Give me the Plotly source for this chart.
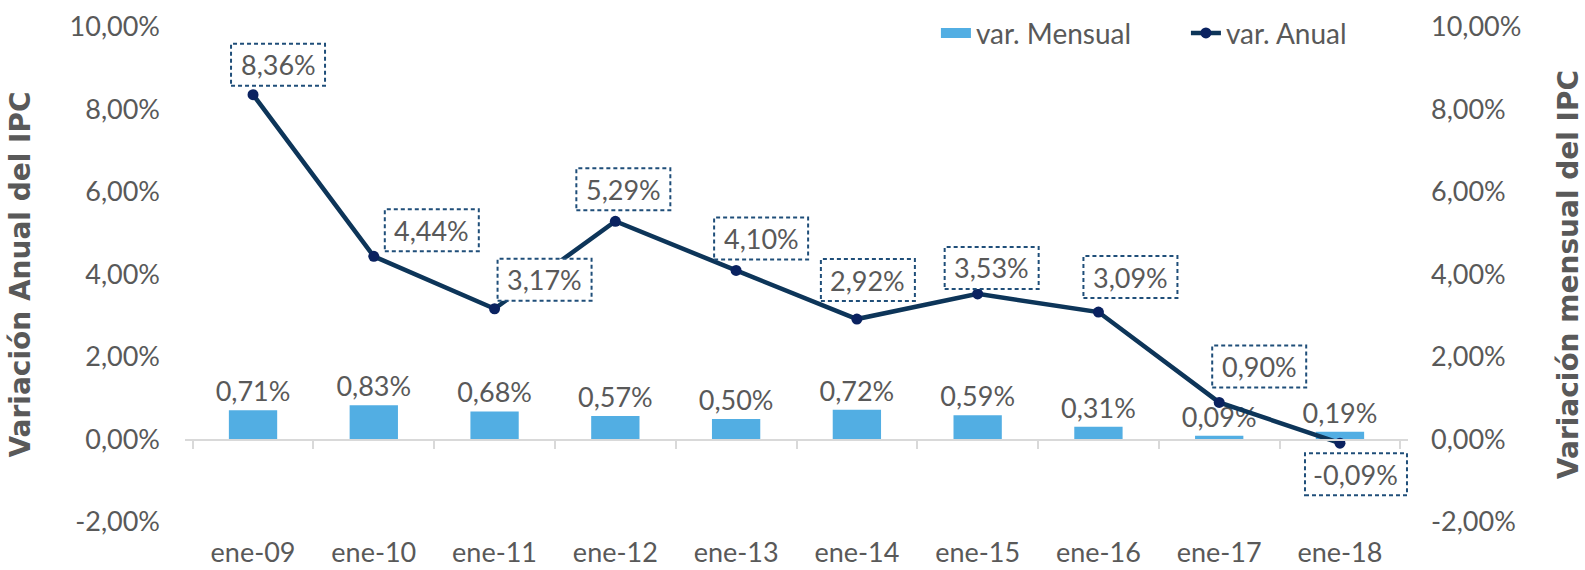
import plotly.graph_objects as go

categories = ["ene-09", "ene-10", "ene-11", "ene-12", "ene-13", "ene-14", "ene-15", "ene-16", "ene-17", "ene-18"]
var_mensual = [0.71, 0.83, 0.68, 0.57, 0.50, 0.72, 0.59, 0.31, 0.09, 0.19]
var_anual = [8.36, 4.44, 3.17, 5.29, 4.10, 2.92, 3.53, 3.09, 0.90, -0.09]
tick_values = [-2, 0, 2, 4, 6, 8, 10]

# label placement offsets (pixels) for the annual labels
label_dx = [25, 58, 50, 8, 25, 11, 14, 32, 40, 16]
label_dy = [30, 26, 29, 32, 32, 39, 26, 35, 36, -31]


def fmt(v):
    return f"{v:.2f}%".replace(".", ",")


tick_text = [fmt(v) for v in tick_values]

FONT = "Lato"
TITLE_FONT = "DejaVu Sans"
GRAY = "#595959"
BAR_COLOR = "#52AEE3"
LINE_COLOR = "#0D3559"
MARKER_COLOR = "#0A2260"
BOX_COLOR = "#1F4E79"

fig = go.Figure()

fig.add_trace(go.Bar(
    x=categories, y=var_mensual, name="var. Mensual", showlegend=False,
    marker=dict(color=BAR_COLOR, line=dict(width=0)),
    text=[fmt(v) for v in var_mensual], textposition="outside", constraintext="none",
    textfont=dict(family=FONT, size=27, color=GRAY),
    cliponaxis=False, xaxis="x", yaxis="y",
))

# legend proxy for the bars (wide rectangle swatch)
fig.add_trace(go.Scatter(
    x=[None], y=[None], name="var. Mensual", mode="lines",
    line=dict(color=BAR_COLOR, width=18), xaxis="x", yaxis="y",
))

fig.add_trace(go.Scatter(
    x=categories, y=var_anual, name="var. Anual", mode="lines+markers",
    line=dict(color=LINE_COLOR, width=4.5),
    marker=dict(color=MARKER_COLOR, size=11),
    cliponaxis=False, xaxis="x2", yaxis="y2",
))

shapes = []
annotations = []
for c, v, dx, dy in zip(categories, var_anual, label_dx, label_dy):
    txt = fmt(v)
    hw = (94 + (len(txt) - 5) * 8) / 2
    shapes.append(dict(
        type="rect", xref="x", yref="y", xsizemode="pixel", ysizemode="pixel",
        xanchor=c, yanchor=v, x0=dx - hw, x1=dx + hw, y0=dy - 21, y1=dy + 21,
        line=dict(color=BOX_COLOR, width=2, dash="4px,3px"), fillcolor="white", layer="above",
    ))
    annotations.append(dict(
        x=c, y=v, xref="x", yref="y", text=txt, showarrow=False,
        xshift=dx, yshift=dy, font=dict(family=FONT, size=27, color=GRAY),
    ))

tickfont = dict(family=FONT, size=27, color=GRAY)
titlefont = dict(family=TITLE_FONT, size=28, color=GRAY, weight="bold")

fig.update_layout(
    template="none",
    width=1585, height=570,
    margin=dict(l=184.5, r=177, t=27.3, b=48.3, autoexpand=False),
    paper_bgcolor="white", plot_bgcolor="white",
    separators=",.",
    bargap=0.6,
    showlegend=True,
    legend=dict(orientation="h", x=0.614, xanchor="left", y=0.9875, yanchor="middle",
                font=dict(family=FONT, size=28, color=GRAY), bgcolor="rgba(0,0,0,0)",
                entrywidth=205, tracegroupgap=0),
    xaxis=dict(domain=[0, 1], type="category", showline=False, ticks="", showgrid=False,
               tickfont=tickfont, ticklabelstandoff=12, automargin=False),
    xaxis2=dict(overlaying="x", matches="x", anchor="free", position=2 / 12, type="category",
                showline=True, linecolor="#D9D9D9", linewidth=1.5, ticks="outside",
                tickson="boundaries", ticklen=9, tickcolor="#D9D9D9", tickwidth=1.5,
                showticklabels=False, showgrid=False, automargin=False),
    yaxis=dict(domain=[0, 1], range=[-2, 10], tickvals=tick_values, ticktext=tick_text,
               showgrid=False, zeroline=False, showline=False, tickfont=tickfont,
               ticklabelstandoff=24, automargin=False,
               title=dict(text="Variación Anual del IPC", font=titlefont, standoff=30)),
    yaxis2=dict(overlaying="y", side="right", anchor="x", range=[-2, 10],
                tickvals=tick_values, ticktext=tick_text, showgrid=False, zeroline=False,
                showline=False, tickfont=tickfont, ticklabelstandoff=22, automargin=False,
                title=dict(text="Variación mensual del IPC", font=titlefont, standoff=39)),
    shapes=shapes,
    annotations=annotations,
)

fig.write_html("out.html", config={"displayModeBar": False},
               post_script="document.body.style.margin='0';")
